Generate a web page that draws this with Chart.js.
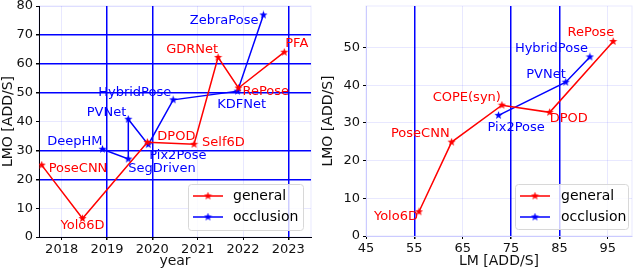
<!DOCTYPE html>
<html>
<head>
<meta charset="utf-8">
<script src="https://cdn.jsdelivr.net/npm/chart.js@4"></script>
<style>
body { margin: 0; background: #fff; }
.wrap { display: flex; width: 640px; height: 270px; }
canvas { display: block; }
</style>
</head>
<body>
<div class="wrap">
  <canvas id="yearChart" width="320" height="270"></canvas>
  <canvas id="lmChart" width="320" height="270"></canvas>
</div>
<script>
// ---- data: left chart (year vs LMO) ----
const yearGeneralNames = ['PoseCNN', 'Yolo6D', 'DPOD', 'Self6D', 'GDRNet', 'RePose', 'PFA'];
const yearGeneralX = [2017.56, 2018.46, 2019.89, 2020.92, 2021.45, 2021.9, 2022.91];
const yearGeneralY = [24.9, 6.4, 32.8, 32.1, 62.2, 51.6, 64.0];

const yearOcclNames = ['DeepHM', 'SegDriven', 'PVNet', 'Pix2Pose', 'HybridPose', 'KDFNet', 'ZebraPose'];
const yearOcclX = [2018.9, 2019.47, 2019.47, 2019.91, 2020.46, 2021.88, 2022.45];
const yearOcclY = [30.4, 27.0, 40.8, 32.0, 47.5, 50.5, 76.9];

const yearTicks = [2018, 2019, 2020, 2021, 2022, 2023];
const lmoTicksLeft = [0, 10, 20, 30, 40, 50, 60, 70, 80];

// ---- data: right chart (LM vs LMO) ----
const lmGeneralNames = ['Yolo6D', 'PoseCNN', 'COPE(syn)', 'DPOD', 'RePose'];
const lmGeneralX = [55.95, 62.7, 73.1, 82.98, 96.1];
const lmGeneralY = [6.42, 24.9, 34.7, 32.8, 51.6];

const lmOcclNames = ['Pix2Pose', 'PVNet', 'HybridPose'];
const lmOcclX = [72.4, 86.3, 91.3];
const lmOcclY = [32.0, 40.8, 47.5];

const lmTicks = [45, 55, 65, 75, 85, 95];
const lmoTicksRight = [0, 10, 20, 30, 40, 50];

// label placement (dx, dy, align) - style only
const yearGeneralLab = [[7, 4, 'left'], [0, 7, 'center'], [10, -6, 'left'], [8, -2, 'left'], [0, -8, 'right'], [4, 4, 'left'], [1, -9, 'left']];
const yearOcclLab = [[0, -8, 'right'], [0, 10, 'left'], [-2, -7, 'right'], [1, 11, 'left'], [-2, -7, 'right'], [4, 13, 'center'], [-5, 6, 'right']];
const lmGeneralLab = [[-1, 5, 'right'], [-2, -8, 'right'], [-1, -8, 'right'], [0, 6, 'left'], [1, -9, 'right']];
const lmOcclLab = [[-11, 12, 'left'], [0, -8, 'right'], [-2, -8, 'right']];

const RED = 'rgb(255,0,0)';
const BLUE = 'rgb(0,0,255)';
const FAINT = 'rgba(0,0,255,0.09)';
const FONT = 'DejaVu Sans';

// small filled star like matplotlib '*'
function starImg(color) {
  const c = document.createElement('canvas');
  c.width = 9; c.height = 9;
  const g = c.getContext('2d');
  g.fillStyle = color;
  g.beginPath();
  for (let i = 0; i < 10; i++) {
    const r = i % 2 === 0 ? 4.3 : 1.8;
    const a = -Math.PI / 2 + i * Math.PI / 5;
    const px = 4.5 + r * Math.cos(a), py = 4.5 + r * Math.sin(a);
    if (i === 0) g.moveTo(px, py); else g.lineTo(px, py);
  }
  g.closePath();
  g.fill();
  return c;
}
const redStar = starImg(RED);
const blueStar = starImg(BLUE);

function pts(xs, ys) {
  return xs.map((x, i) => ({ x: x, y: ys[i] }));
}

function series(label, xs, ys, names, lab, color, star) {
  return {
    label: label,
    data: pts(xs, ys),
    names: names,
    lab: lab,
    borderColor: color,
    backgroundColor: color,
    borderWidth: 1.5,
    pointStyle: star,
    pointRadius: 4,
    showLine: true,
    tension: 0
  };
}

// text next to each point
const pointLabels = {
  id: 'pointLabels',
  afterDatasetsDraw(chart) {
    const g = chart.ctx;
    g.save();
    g.font = '13px ' + FONT;
    g.textBaseline = 'middle';
    chart.data.datasets.forEach((ds, i) => {
      const meta = chart.getDatasetMeta(i);
      meta.data.forEach((el, j) => {
        const p = ds.lab[j];
        g.fillStyle = ds.borderColor;
        g.textAlign = p[2];
        g.fillText(ds.names[j], el.x + p[0], el.y + p[1]);
      });
    });
    g.restore();
  }
};

// faint frame + legend box in the lower right corner
const frameLegend = {
  id: 'frameLegend',
  beforeDatasetsDraw(chart) {
    const a = chart.chartArea, g = chart.ctx;
    g.save();
    g.strokeStyle = FAINT;
    g.lineWidth = 1;
    g.strokeRect(a.left, a.top, a.right - a.left, a.bottom - a.top);
    g.restore();
  },
  afterDraw(chart, args, opts) {
    const a = chart.chartArea, g = chart.ctx;
    const w = opts.w, h = opts.h;
    const x = a.right - opts.right - w, y = a.bottom - opts.bottom - h;
    g.save();
    g.fillStyle = 'rgba(255,255,255,0.8)';
    g.strokeStyle = '#d8d8d8';
    g.lineWidth = 1;
    g.beginPath();
    g.roundRect(x + 0.5, y + 0.5, w, h, 3);
    g.fill();
    g.stroke();
    g.font = '14px ' + FONT;
    g.textBaseline = 'middle';
    g.textAlign = 'left';
    chart.data.datasets.forEach((ds, i) => {
      const ly = y + 12 + i * 21;
      g.strokeStyle = ds.borderColor;
      g.lineWidth = 1.5;
      g.beginPath();
      g.moveTo(x + 5, ly);
      g.lineTo(x + 35, ly);
      g.stroke();
      g.drawImage(ds.pointStyle, x + 20 - 4.5, ly - 4.5);
      g.fillStyle = '#000';
      g.fillText(ds.label, x + opts.textX, ly);
    });
    g.restore();
  }
};

function gridOpts(blueVals) {
  return {
    color: c => (c.tick && blueVals.includes(c.tick.value)) ? BLUE : FAINT,
    lineWidth: c => (c.tick && blueVals.includes(c.tick.value)) ? 1.5 : 1,
    tickColor: '#000',
    tickLength: 3,
    drawTicks: true
  };
}

function makeChart(id, cfg) {
  return new Chart(document.getElementById(id), {
    type: 'scatter',
    data: { datasets: cfg.datasets },
    plugins: [frameLegend, pointLabels],
    options: {
      responsive: false,
      animation: false,
      layout: { padding: { top: 6, right: cfg.padRight, left: 0, bottom: 0 } },
      plugins: {
        legend: { display: false },
        tooltip: { enabled: false },
        frameLegend: cfg.legend
      },
      scales: {
        x: {
          type: 'linear',
          min: cfg.xMin, max: cfg.xMax,
          afterBuildTicks: s => { s.ticks = cfg.xTicks.map(v => ({ value: v })); },
          afterFit: s => { s.height = cfg.xHeight; s.paddingLeft = 0; s.paddingRight = 0; },
          grid: gridOpts(cfg.xBlue),
          border: { color: cfg.axisColor, width: 1 },
          ticks: { color: '#111', font: { family: FONT, size: 13 }, padding: 2, maxRotation: 0, callback: v => String(v) },
          title: { display: true, text: cfg.xTitle, color: '#111', font: { family: FONT, size: 14 }, padding: { top: 0, bottom: 0 } }
        },
        y: {
          type: 'linear',
          min: cfg.yMin, max: cfg.yMax,
          afterBuildTicks: s => { s.ticks = cfg.yTicks.map(v => ({ value: v })); },
          afterFit: s => { s.width = cfg.yWidth; s.paddingTop = 0; s.paddingBottom = 0; },
          grid: gridOpts(cfg.yBlue),
          border: { color: cfg.axisColor, width: 1 },
          ticks: { color: '#111', font: { family: FONT, size: 13 }, padding: 3, callback: v => String(v) },
          title: { display: true, text: 'LMO [ADD/S]', color: '#111', font: { family: FONT, size: 14 }, padding: { top: 0, bottom: 0 } }
        }
      }
    }
  });
}

makeChart('yearChart', {
  datasets: [
    series('general', yearGeneralX, yearGeneralY, yearGeneralNames, yearGeneralLab, RED, redStar),
    series('occlusion', yearOcclX, yearOcclY, yearOcclNames, yearOcclLab, BLUE, blueStar)
  ],
  xMin: 2017.5, xMax: 2023.5, xTicks: yearTicks, xBlue: [2019, 2020, 2023],
  yMin: 0, yMax: 80, yTicks: lmoTicksLeft, yBlue: [20, 30, 50, 60, 70],
  xTitle: 'year', xHeight: 33, yWidth: 39, padRight: 9, axisColor: '#000',
  legend: { w: 115, h: 46, right: 8, bottom: 7, textX: 45 }
});

makeChart('lmChart', {
  datasets: [
    series('general', lmGeneralX, lmGeneralY, lmGeneralNames, lmGeneralLab, RED, redStar),
    series('occlusion', lmOcclX, lmOcclY, lmOcclNames, lmOcclLab, BLUE, blueStar)
  ],
  xMin: 45, xMax: 100, xTicks: lmTicks, xBlue: [55, 75, 85],
  yMin: 0, yMax: 61, yTicks: lmoTicksRight, yBlue: [],
  xTitle: 'LM [ADD/S]', xHeight: 34, yWidth: 46, padRight: 8, axisColor: FAINT,
  legend: { w: 113, h: 45, right: 4, bottom: 7, textX: 46 }
});
</script>
</body>
</html>
